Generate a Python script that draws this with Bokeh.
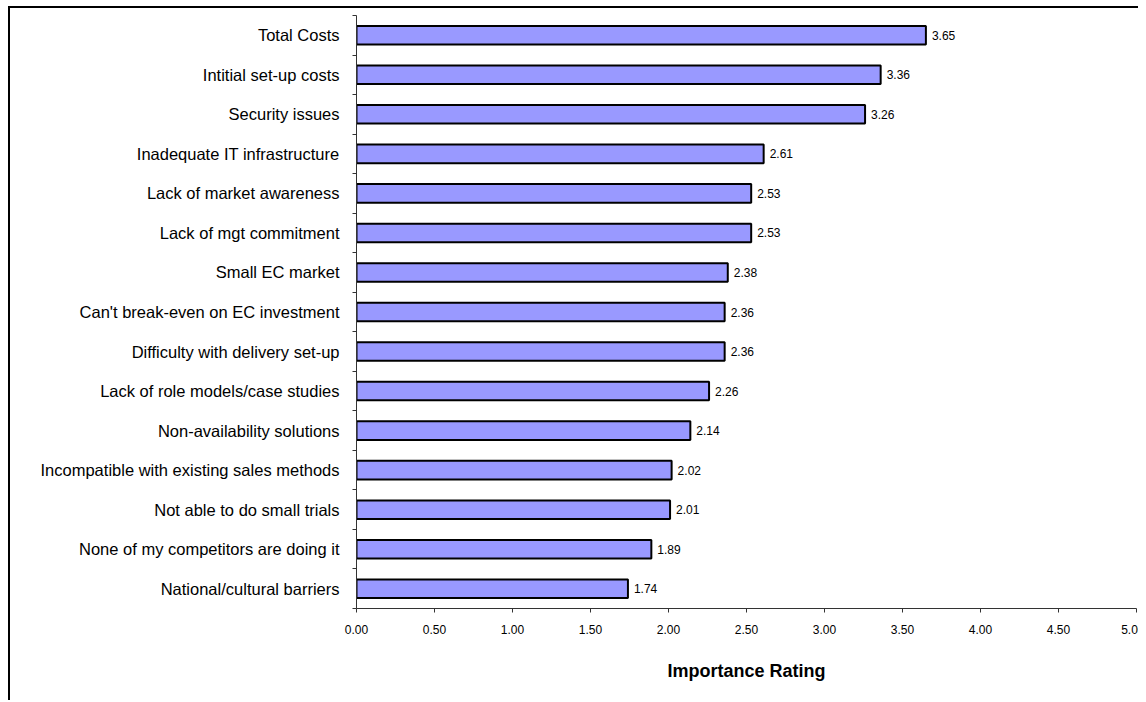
from bokeh.plotting import figure
from bokeh.models import FixedTicker, NumeralTickFormatter, ColumnDataSource, Range1d
from bokeh.embed import file_html
from bokeh.resources import INLINE
from bokeh.core.properties import value

categories = [
    "Total Costs",
    "Intitial set-up costs",
    "Security issues",
    "Inadequate IT infrastructure",
    "Lack of market awareness",
    "Lack of mgt commitment",
    "Small EC market",
    "Can't break-even on EC investment",
    "Difficulty with delivery set-up",
    "Lack of role models/case studies",
    "Non-availability solutions",
    "Incompatible with existing sales methods",
    "Not able to do small trials",
    "None of my competitors are doing it",
    "National/cultural barriers",
]
ratings = [3.65, 3.36, 3.26, 2.61, 2.53, 2.53, 2.38, 2.36, 2.36, 2.26, 2.14, 2.02, 2.01, 1.89, 1.74]
x_ticks = [0.0, 0.5, 1.0, 1.5, 2.0, 2.5, 3.0, 3.5, 4.0, 4.5, 5.0]
axis_title = "Importance Rating"

FONT = "Liberation Sans"
n = len(categories)
ypos = [n - i - 0.5 for i in range(n)]
bounds = list(range(n + 1))

src = ColumnDataSource(dict(
    y=ypos,
    v=ratings,
    lbl=[f"{r:.2f}" for r in ratings],
))

p = figure(width=1136, height=694, output_backend="svg", toolbar_location=None,
           x_range=Range1d(x_ticks[0], x_ticks[-1]), y_range=Range1d(0, n),
           min_border_left=346, min_border_right=10, min_border_top=7, min_border_bottom=94)
p.styles = {"margin-left": "8px", "margin-top": "6px",
            "border-left": "2px solid black", "border-top": "2px solid black",
            "clip-path": "inset(0px 6px 0px 0px)"}
p.outline_line_color = None
p.background_fill_color = "white"
p.border_fill_color = "white"
p.xgrid.visible = False
p.ygrid.visible = False

p.hbar(y="y", left=0, right="v", height=0.47, fill_color="#9999FF",
       line_color="black", line_width=2, source=src)
p.text(x="v", y="y", text="lbl", x_offset=6, text_baseline="middle", text_align="left",
       text_font=value(FONT), text_font_size="12px", text_color="black", source=src)

xa = p.xaxis[0]
xa.ticker = FixedTicker(ticks=x_ticks)
xa.formatter = NumeralTickFormatter(format="0.00")
xa.major_tick_out = 4
xa.major_tick_in = 0
xa.minor_tick_line_color = None
xa.axis_line_color = "#333333"
xa.major_tick_line_color = "#333333"
xa.major_label_text_font = FONT
xa.major_label_text_font_size = "12px"
xa.major_label_text_color = "black"
xa.major_label_standoff = 12
xa.axis_label = axis_title
xa.axis_label_text_font = FONT
xa.axis_label_text_font_size = "18px"
xa.axis_label_text_font_style = "bold"
xa.axis_label_text_color = "black"
xa.axis_label_standoff = 24

ya = p.yaxis[0]
ya.ticker = FixedTicker(ticks=ypos, minor_ticks=bounds)
ya.major_label_overrides = {y: c for y, c in zip(ypos, categories)}
ya.major_tick_line_color = None
ya.major_tick_out = 0
ya.major_tick_in = 0
ya.minor_tick_line_color = "#333333"
ya.minor_tick_out = 4
ya.minor_tick_in = 0
ya.axis_line_color = "#333333"
ya.major_label_text_font = FONT
ya.major_label_text_font_size = "16.5px"
ya.major_label_text_color = "black"
ya.major_label_standoff = 13

open("out.html", "w").write(file_html(p, INLINE))
